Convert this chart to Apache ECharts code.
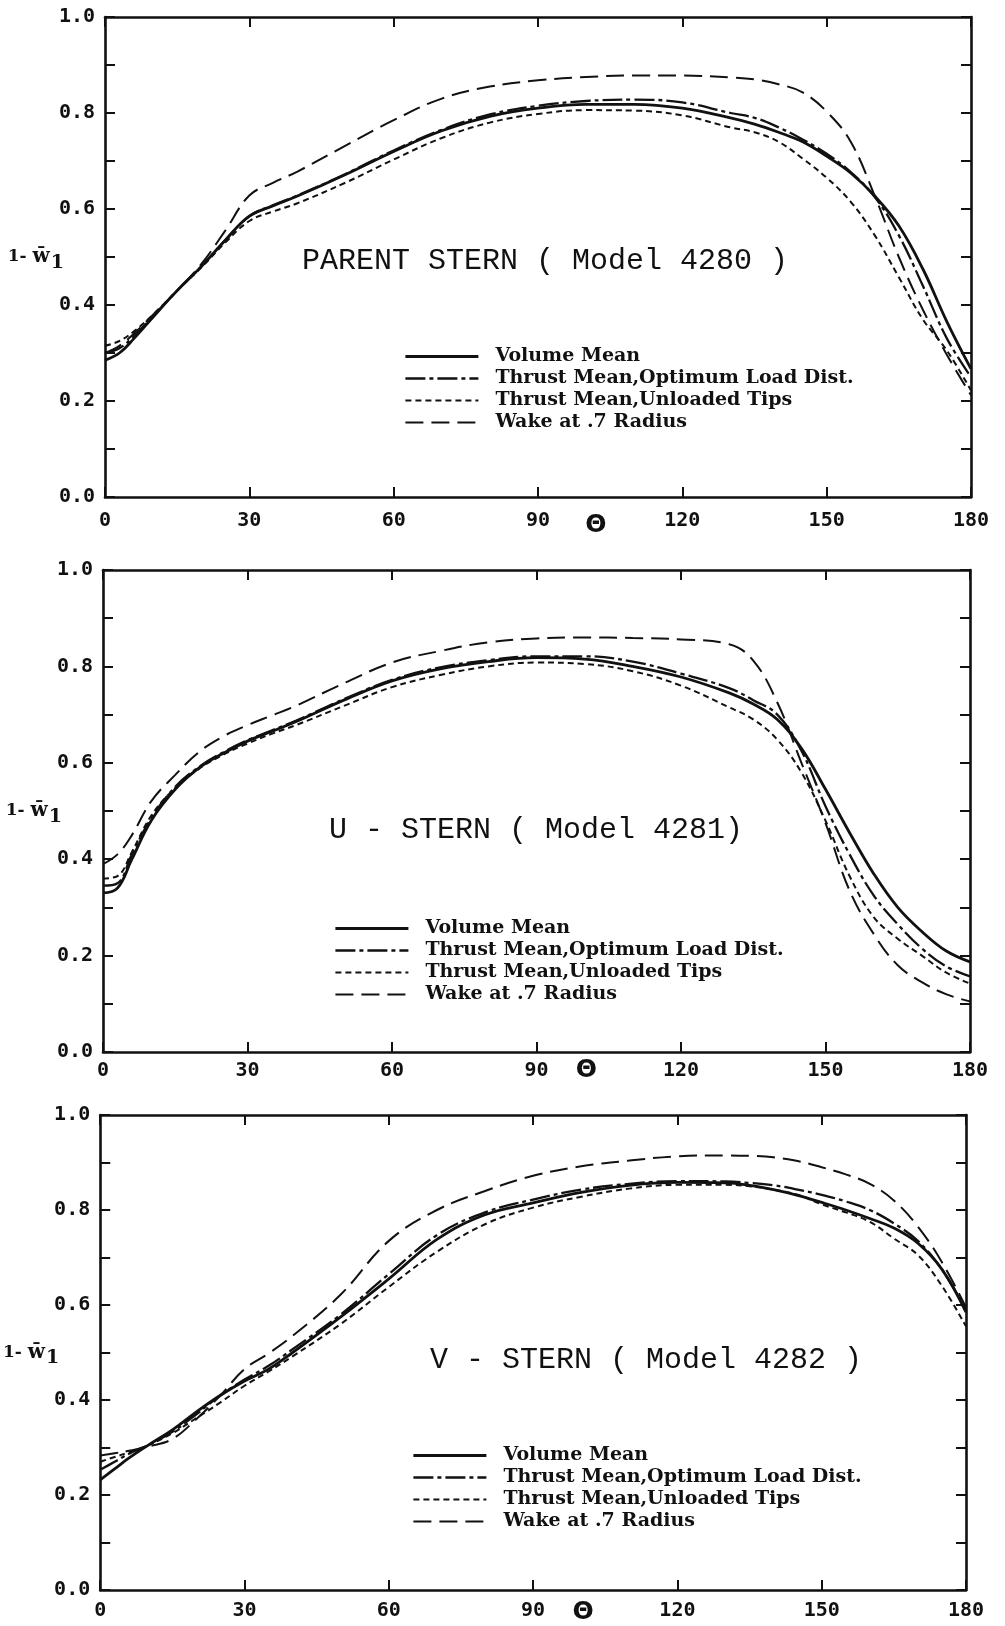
<!DOCTYPE html>
<html>
<head>
<meta charset="utf-8">
<script src="https://cdn.jsdelivr.net/npm/echarts@6/dist/echarts.min.js"></script>
<style>
  html, body { margin: 0; background: #fff; }
  #chart { width: 1005px; height: 1626px; }
</style>
</head>
<body>
<div id="chart"></div>
<script>
// angle theta (deg) shared by every curve
const theta = [0, 3, 6, 10, 15, 20, 25, 30, 35, 40, 50, 60, 70, 80, 90, 100, 110, 120, 130, 135, 140, 145, 150, 155, 160, 165, 170, 175, 180];

const seriesNames = [
  "Volume Mean",
  "Thrust Mean,Optimum Load Dist.",
  "Thrust Mean,Unloaded Tips",
  "Wake at .7 Radius",
];

// PARENT STERN ( Model 4280 )
const parentVolume = [0.285, 0.30, 0.33, 0.375, 0.43, 0.48, 0.535, 0.585, 0.607, 0.627, 0.672, 0.72, 0.763, 0.793, 0.81, 0.818, 0.818, 0.81, 0.79, 0.777, 0.76, 0.74, 0.71, 0.675, 0.627, 0.565, 0.475, 0.365, 0.267];
const parentOptimum = [0.30, 0.31, 0.335, 0.377, 0.43, 0.48, 0.535, 0.585, 0.608, 0.628, 0.673, 0.722, 0.765, 0.797, 0.815, 0.825, 0.828, 0.822, 0.80, 0.79, 0.77, 0.745, 0.715, 0.677, 0.625, 0.545, 0.44, 0.33, 0.25];
const parentUnloaded = [0.315, 0.325, 0.345, 0.38, 0.43, 0.478, 0.53, 0.575, 0.595, 0.612, 0.655, 0.703, 0.748, 0.78, 0.798, 0.806, 0.805, 0.795, 0.77, 0.76, 0.74, 0.705, 0.665, 0.615, 0.545, 0.458, 0.37, 0.305, 0.222];
const parentWake = [0.30, 0.315, 0.34, 0.38, 0.43, 0.485, 0.555, 0.628, 0.655, 0.678, 0.732, 0.785, 0.83, 0.855, 0.868, 0.875, 0.878, 0.878, 0.874, 0.87, 0.86, 0.843, 0.803, 0.74, 0.627, 0.50, 0.39, 0.296, 0.212];

// U - STERN ( Model 4281)
const uVolume = [0.33, 0.34, 0.40, 0.48, 0.545, 0.59, 0.62, 0.645, 0.665, 0.685, 0.73, 0.77, 0.795, 0.81, 0.818, 0.815, 0.80, 0.778, 0.745, 0.722, 0.69, 0.63, 0.545, 0.455, 0.37, 0.30, 0.25, 0.21, 0.187];
const uOptimum = [0.345, 0.35, 0.41, 0.485, 0.55, 0.592, 0.622, 0.647, 0.667, 0.687, 0.732, 0.772, 0.798, 0.813, 0.821, 0.821, 0.81, 0.785, 0.755, 0.73, 0.70, 0.625, 0.51, 0.41, 0.325, 0.265, 0.215, 0.178, 0.157];
const uUnloaded = [0.36, 0.365, 0.415, 0.49, 0.548, 0.588, 0.617, 0.64, 0.66, 0.678, 0.718, 0.757, 0.782, 0.80, 0.808, 0.805, 0.79, 0.76, 0.715, 0.69, 0.648, 0.58, 0.48, 0.365, 0.28, 0.235, 0.20, 0.165, 0.142];
const uWake = [0.39, 0.41, 0.45, 0.52, 0.575, 0.623, 0.655, 0.678, 0.698, 0.718, 0.765, 0.808, 0.832, 0.85, 0.858, 0.86, 0.859, 0.856, 0.846, 0.812, 0.725, 0.60, 0.475, 0.335, 0.245, 0.18, 0.145, 0.12, 0.105];

// V - STERN ( Model 4282 )
const vVolume = [0.232, 0.255, 0.278, 0.305, 0.337, 0.375, 0.41, 0.44, 0.465, 0.50, 0.575, 0.655, 0.738, 0.79, 0.815, 0.837, 0.852, 0.858, 0.857, 0.852, 0.843, 0.831, 0.816, 0.80, 0.782, 0.762, 0.73, 0.675, 0.585];
const vOptimum = [0.253, 0.27, 0.287, 0.305, 0.333, 0.37, 0.41, 0.443, 0.472, 0.507, 0.58, 0.665, 0.747, 0.795, 0.822, 0.843, 0.855, 0.861, 0.86, 0.857, 0.852, 0.843, 0.832, 0.818, 0.80, 0.772, 0.735, 0.675, 0.59];
const vUnloaded = [0.27, 0.28, 0.29, 0.305, 0.33, 0.362, 0.395, 0.43, 0.46, 0.492, 0.56, 0.638, 0.712, 0.77, 0.805, 0.828, 0.845, 0.853, 0.853, 0.85, 0.843, 0.832, 0.812, 0.795, 0.775, 0.74, 0.705, 0.64, 0.555];
const vWake = [0.283, 0.288, 0.293, 0.302, 0.318, 0.36, 0.41, 0.465, 0.498, 0.535, 0.622, 0.735, 0.80, 0.84, 0.872, 0.892, 0.904, 0.913, 0.915, 0.914, 0.911, 0.903, 0.89, 0.875, 0.855, 0.82, 0.765, 0.69, 0.595];

const panelTitles = ["PARENT STERN ( Model 4280 )", "U - STERN ( Model 4281)", "V - STERN ( Model 4282 )"];
const panelValues = [
  [parentVolume, parentOptimum, parentUnloaded, parentWake],
  [uVolume, uOptimum, uUnloaded, uWake],
  [vVolume, vOptimum, vUnloaded, vWake],
];

// layout of the three stacked plots
const panels = [
  { grid: { left: 105, top: 17, width: 866, height: 480 }, title: [545, 246], legend: [404, 347], labelMargin: 14, thetaGap: 16, thetaPad: 116 },
  { grid: { left: 103, top: 570, width: 867, height: 482 }, title: [536, 815], legend: [334, 919], labelMargin: 9, thetaGap: 6, thetaPad: 100 },
  { grid: { left: 100, top: 1115, width: 866, height: 475 }, title: [646, 1345], legend: [412, 1446], labelMargin: 11, thetaGap: 10, thetaPad: 100 },
];

const lineStyles = [
  { width: 2.8, type: "solid" },
  { width: 2.3, type: [20, 4, 4, 4] },
  { width: 2, type: [6, 4] },
  { width: 2, type: [18, 8] },
];

const ink = "#111";
const labelFont = "DejaVu Sans Mono";
const legendFont = "DejaVu Serif";

const axisLine = { show: true, onZero: false, lineStyle: { color: ink, width: 2.6 } };
const axisTick = { show: true, inside: true, length: 10, lineStyle: { color: ink, width: 2 } };

function xAxes(i) {
  const p = panels[i];
  const base = { type: "value", gridIndex: i, min: 0, max: 180, interval: 30, axisLine, axisTick, splitLine: { show: false } };
  return [
    {
      ...base,
      position: "bottom",
      axisLabel: { color: ink, fontFamily: labelFont, fontWeight: "bold", fontSize: 20, margin: p.labelMargin },
      name: "\u0398",
      nameLocation: "middle",
      nameMoveOverlap: false,
      nameGap: p.thetaGap,
      nameTextStyle: {
        color: ink,
        fontFamily: "DejaVu Sans",
        fontWeight: "bold",
        fontSize: 25,
        padding: [0, 0, 0, p.thetaPad],
      },
    },
    { ...base, position: "top", axisLabel: { show: false } },
  ];
}

function yAxes(i) {
  const base = { type: "value", gridIndex: i, min: 0, max: 1, interval: 0.1, axisLine, axisTick, splitLine: { show: false } };
  return [
    {
      ...base,
      position: "left",
      axisLabel: {
        color: ink,
        fontFamily: labelFont,
        fontWeight: "bold",
        fontSize: 20,
        margin: 10,
        formatter: (v) => (Math.round(v * 10) % 2 === 0 ? v.toFixed(1) : ""),
      },
      name: "{a|1- }{b|w\u0304}{c|1}",
      nameLocation: "middle",
      nameMoveOverlap: false,
      nameRotate: 0,
      nameGap: 41,
      nameTextStyle: {
        rich: {
          a: { fontFamily: legendFont, fontWeight: "bold", fontSize: 17, color: ink },
          b: { fontFamily: legendFont, fontWeight: "bold", fontSize: 20, color: ink },
          c: { fontFamily: legendFont, fontWeight: "bold", fontSize: 19, color: ink, padding: [12, 0, 0, 1] },
        },
      },
    },
    { ...base, position: "right", axisLabel: { show: false } },
  ];
}

function panelSeries(i) {
  return panelValues[i].map((values, k) => ({
    name: seriesNames[k],
    type: "line",
    xAxisIndex: i * 2,
    yAxisIndex: i * 2,
    smooth: 0.4,
    symbol: "none",
    showSymbol: false,
    silent: true,
    color: ink,
    lineStyle: { color: ink, ...lineStyles[k] },
    data: theta.map((t, j) => [t, values[j]]),
  }));
}

function panelLegend(i) {
  return {
    orient: "vertical",
    left: panels[i].legend[0],
    top: panels[i].legend[1],
    padding: 0,
    itemWidth: 73,
    itemHeight: 12,
    itemGap: 3,
    selectedMode: false,
    itemStyle: { opacity: 0 },
    textStyle: { color: ink, fontFamily: legendFont, fontWeight: "bold", fontSize: 19, padding: [0, 0, 0, 12] },
    data: seriesNames.map((name, k) => ({
      name,
      itemStyle: { opacity: 0 },
      lineStyle: { color: ink, ...lineStyles[k] },
    })),
  };
}

function panelTitle(i) {
  return {
    text: panelTitles[i],
    left: panels[i].title[0],
    top: panels[i].title[1],
    textAlign: "center",
    padding: 0,
    textStyle: { color: ink, fontFamily: "Liberation Mono", fontWeight: "normal", fontSize: 30 },
  };
}

const idx = [0, 1, 2];
const chart = echarts.init(document.getElementById("chart"));
chart.setOption({
  animation: false,
  backgroundColor: "#fff",
  title: idx.map(panelTitle),
  legend: idx.map(panelLegend),
  grid: panels.map((p) => p.grid),
  xAxis: idx.flatMap(xAxes),
  yAxis: idx.flatMap(yAxes),
  series: idx.flatMap(panelSeries),
});
</script>
</body>
</html>
